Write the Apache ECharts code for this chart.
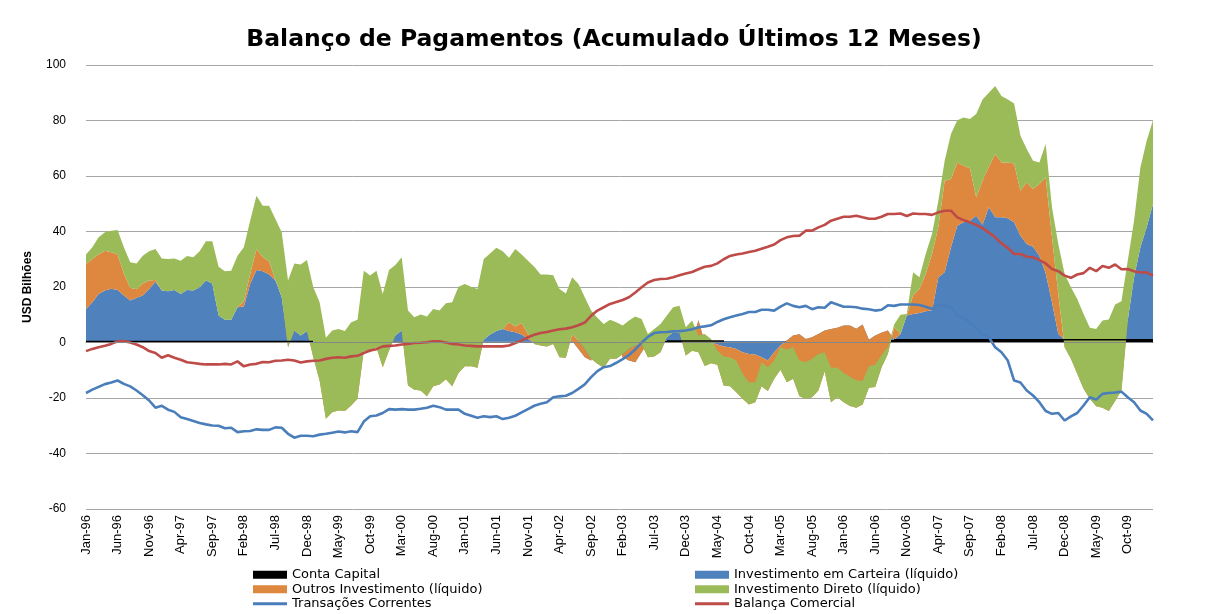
<!DOCTYPE html>
<html>
<head>
<meta charset="utf-8">
<title>Balanço de Pagamentos</title>
<script src="https://cdn.jsdelivr.net/npm/echarts@6/dist/echarts.min.js"></script>
<style>
  html, body { margin: 0; padding: 0; background: #fff; }
  #chart { width: 1206px; height: 614px; }
</style>
</head>
<body>
<div id="chart"></div>
<script>
// meses Jan-96 .. Feb-10
var meses = ['Jan', 'Feb', 'Mar', 'Apr', 'May', 'Jun', 'Jul', 'Aug', 'Sep', 'Oct', 'Nov', 'Dec']
var anoInicial = 1996
var totalMeses = 170

// USD bilhões, acumulado 12 meses (uma linha por ano)
var contaCapital = [
  0.4, 0.4, 0.4, 0.4, 0.4, 0.4, 0.4, 0.4, 0.4, 0.4, 0.4, 0.4,
  0.4, 0.4, 0.4, 0.4, 0.4, 0.4, 0.4, 0.4, 0.4, 0.4, 0.4, 0.4,
  0.4, 0.4, 0.4, 0.4, 0.4, 0.4, 0.4, 0.4, 0.4, 0.4, 0.4, 0.4,
  0.4, 0.4, 0.4, 0.4, 0.4, 0.4, 0.4, 0.4, 0.4, 0.4, 0.4, 0.4,
  0.4, 0.4, 0.4, 0.4, 0.4, 0.4, 0.4, 0.4, 0.4, 0.4, 0.4, 0.4,
  0.3, 0.3, 0.3, 0.3, 0.3, 0.3, 0.3, 0.3, 0.3, 0.3, 0.3, 0.3,
  0.3, 0.3, 0.3, 0.3, 0.3, 0.3, 0.3, 0.3, 0.3, 0.3, 0.3, 0.3,
  0.5, 0.5, 0.5, 0.5, 0.5, 0.5, 0.5, 0.5, 0.5, 0.5, 0.5, 0.5,
  0.5, 0.5, 0.5, 0.5, 0.5, 0.5, 0.5, 0.5, 0.5, 0.5, 0.5, 0.5,
  0.5, 0.5, 0.5, 0.5, 0.5, 0.5, 0.5, 0.5, 0.5, 0.5, 0.5, 0.5,
  0.8, 0.8, 0.8, 0.8, 0.8, 0.8, 0.8, 0.8, 1.0, 1.0, 1.0, 1.0,
  1.0, 1.0, 1.0, 1.0, 1.0, 1.0, 1.0, 1.0, 1.0, 1.0, 1.0, 1.0,
  1.0, 1.0, 1.0, 1.0, 1.0, 1.0, 1.0, 1.0, 1.0, 1.0, 1.0, 1.0,
  1.0, 1.0, 1.0, 1.0, 1.0, 1.0, 1.0, 1.0, 1.0, 1.0, 1.0, 1.0,
  1.0, 1.0
]
var carteira = [
  11.7, 14.1, 17.1, 18.3, 19.0, 18.5, 16.5, 14.7, 15.7, 16.5, 18.9, 21.5,
  18.3, 18.1, 18.5, 17.1, 18.5, 18.3, 19.5, 21.9, 20.9, 9.3, 7.8, 7.8,
  12.3, 12.6, 20.7, 25.7, 25.3, 24.1, 21.9, 15.9, 0.0, 3.9, 2.1, 3.7,
  -0.4, -0.4, -0.4, -0.4, -0.4, -0.4, -0.4, -0.4, -0.4, -0.4, -0.4, -0.4,
  -0.4, 2.1, 3.9, -0.4, -0.4, -0.4, -0.4, -0.4, -0.4, -0.4, -0.4, -0.4,
  -0.3, -0.3, -0.3, 0.7, 2.6, 3.8, 4.6, 3.8, 3.4, 2.6, 1.0, -0.3,
  -0.3, -0.3, -0.3, -0.3, -0.3, 0.2, -2.6, -5.6, -6.8, -0.3, -0.3, -0.3,
  -0.5, -5.8, -7.0, -7.6, -4.0, -0.5, -0.5, -0.5, 1.4, 3.2, 3.0, -0.5,
  -0.5, 7.5, -0.5, -0.5, -1.2, -1.9, -2.2, -2.8, -4.0, -4.6, -4.8, -5.8,
  -7.0, -4.0, -1.6, 0.2, 2.0, 2.5, 0.8, 1.4, 2.6, 3.8, 4.4, 4.8,
  5.3, 5.3, 4.2, 5.7, 0.2, 1.7, 2.7, 3.5, 0.0, 2.1, 8.7, 9.3,
  9.6, 10.3, 10.5, 22.5, 24.3, 33.3, 41.1, 42.3, 42.9, 44.7, 41.4, 47.7,
  44.1, 44.1, 43.8, 42.3, 37.5, 34.5, 33.5, 30.3, 24.0, 13.5, 2.1, 0.0,
  0.0, 0.0, 0.0, 0.0, 0.0, 0.0, 0.0, 0.0, 0.0, 6.9, 22.5, 33.3,
  40.5, 48.9
]
var outros = [
  16.2, 15.6, 14.2, 14.4, 13.1, 12.8, 8.0, 4.6, 3.1, 4.4, 3.0, 0.6,
  0, 0, 0, 0, 0, 0, 0, 0, 0, 0, 0, 0,
  0, 1.9, 3.6, 7.6, 5.0, 4.8, 0.2, 0, -2.1, 0, 0, 0,
  -5.3, -13.7, -27.5, -25.1, -24.5, -24.7, -22.7, -20.3, -2.9, -3.5, -1.7, -8.9,
  -2.9, 0, 0, -15.5, -17.0, -17.3, -19.4, -15.8, -15.1, -13.2, -15.8, -11.0,
  -8.6, -8.6, -9.1, 0, 0, 0, 0, 3.2, 2.1, 4.1, 1.8, -0.5,
  -1.1, -1.4, -0.5, -5.3, -5.5, 2.4, 3.0, 3.0, 0.6, -7.7, -9.1, -5.9,
  -5.9, 1.2, 4.2, 6.0, 3.0, -5.3, -5.0, -3.5, 0, 0, 0, -4.7,
  -3.0, -11.5, -8.5, -7.5, -7.3, -14.1, -14.1, -15.6, -16.8, -18.2, -17.2, -10.5,
  -11.0, -9.6, -8.7, -15.0, -15.6, -22.4, -21.6, -21.6, -20.4, -14.7, -26.4, -25.0,
  -27.6, -29.0, -28.5, -28.8, -17.3, -18.5, -12.5, -8.4, 4.5, 0, 0, 6.6,
  8.7, 13.4, 20.4, 18.0, 33.0, 24.6, 22.8, 20.4, 18.9, 6.6, 15.9, 14.6,
  22.8, 19.8, 20.1, 21.2, 16.2, 22.2, 20.8, 25.8, 34.5, 23.4, 14.4, -2.7,
  -6.9, -12.3, -17.7, -21.3, -24.0, -24.5, -25.7, -22.1, -18.3, 0, 0, 0,
  0, 0
]
var direto = [
  3.4, 4.2, 6.2, 6.6, 7.8, 8.8, 9.4, 9.2, 9.3, 10.0, 10.6, 11.2,
  11.6, 11.6, 11.4, 12.0, 12.3, 12.0, 13.0, 14.2, 15.2, 17.6, 17.5, 17.7,
  18.6, 19.4, 19.2, 19.2, 18.6, 20.0, 22.0, 23.4, 24.0, 24.2, 25.6, 25.6,
  25.2, 28.2, 29.2, 29.4, 29.4, 28.8, 30.0, 28.5, 28.8, 27.6, 27.6, 26.4,
  29.0, 25.4, 26.4, 27.0, 26.1, 27.4, 28.8, 27.9, 26.6, 27.3, 30.3, 31.1,
  29.7, 28.7, 28.4, 29.1, 29.2, 30.0, 28.0, 23.2, 27.9, 24.7, 26.4, 27.8,
  25.6, 25.9, 24.7, 24.6, 23.2, 20.6, 20.4, 18.6, 17.4, 16.6, 15.8, 14.1,
  13.2, 10.2, 10.2, 10.5, 9.0, 8.4, 9.9, 10.2, 7.8, 9.0, 9.7, 10.2,
  10.9, 6.0, 11.6, 8.8, 5.0, 10.5, 10.5, 11.4, 9.0, 8.0, 7.2, 8.7,
  8.6, 6.6, 8.1, 11.7, 11.4, 12.9, 13.2, 13.8, 13.2, 6.9, 12.4, 10.7,
  10.5, 10.6, 9.9, 8.4, 7.8, 8.0, 4.5, 2.4, 1.0, 6.9, 0.6, 8.4,
  4.2, 7.2, 7.2, 9.6, 7.2, 16.2, 15.2, 17.4, 17.7, 30.0, 29.3, 26.7,
  24.5, 23.9, 22.7, 21.6, 19.8, 12.0, 10.2, 7.8, 12.0, 10.8, 18.0, 26.4,
  25.8, 27.0, 27.0, 25.6, 27.9, 31.4, 33.0, 34.8, 32.2, 21.6, 20.4, 28.8,
  31.2, 30.2
]
var transacoes = [
  -18.2, -17.0, -16.0, -15.0, -14.4, -13.7, -14.9, -15.8, -17.3, -19.0, -20.9, -23.5,
  -22.8, -24.2, -25.0, -26.9, -27.6, -28.3, -29.0, -29.5, -29.9, -30.0, -30.9, -30.7,
  -32.3, -32.0, -31.9, -31.3, -31.5, -31.5, -30.6, -30.7, -32.9, -34.3, -33.6, -33.6,
  -33.8, -33.2, -32.9, -32.5, -32.1, -32.4, -32.0, -32.3, -28.5, -26.6, -26.3, -25.4,
  -24.0, -24.2, -24.0, -24.2, -24.2, -23.9, -23.5, -22.8, -23.3, -24.2, -24.2, -24.2,
  -25.7, -26.4, -27.1, -26.6, -26.9, -26.6, -27.6, -27.1, -26.4, -25.2, -24.0, -22.8,
  -22.1, -21.5, -19.7, -19.4, -19.2, -18.2, -16.7, -15.1, -12.5, -10.3, -8.9, -8.5,
  -7.3, -6.0, -4.5, -2.5, 0.0, 2.0, 3.4, 3.7, 3.8, 4.0, 4.1, 4.3,
  4.8, 5.5, 5.8, 6.2, 7.4, 8.4, 9.1, 9.7, 10.3, 11.0, 11.0, 11.8,
  11.8, 11.5, 12.9, 14.1, 13.2, 12.7, 13.2, 12.0, 12.7, 12.5, 14.5, 13.7,
  12.9, 12.9, 12.7, 12.2, 12.0, 11.5, 11.8, 13.4, 13.2, 13.7, 13.7, 13.7,
  13.5, 12.9, 12.1, 13.7, 13.2, 12.9, 9.7, 8.9, 7.0, 5.3, 2.9, 1.9,
  -1.7, -3.5, -6.5, -13.7, -14.4, -17.3, -19.1, -21.5, -24.7, -25.7, -25.4, -28.1,
  -26.6, -25.4, -22.7, -19.7, -20.6, -18.5, -18.2, -18.0, -17.7, -19.7, -21.5, -24.5,
  -25.7, -28.1
]
var balanca = [
  -3.1, -2.3, -1.7, -1.2, -0.5, 0.4, 0.5, 0.0, -0.7, -1.7, -3.1, -3.8,
  -5.5, -4.6, -5.5, -6.2, -7.1, -7.4, -7.7, -7.9, -7.9, -7.9, -7.7, -7.9,
  -6.8, -8.6, -7.9, -7.7, -7.0, -7.1, -6.6, -6.5, -6.2, -6.5, -7.2, -6.8,
  -6.6, -6.5, -5.9, -5.5, -5.3, -5.5, -5.0, -4.8, -3.8, -2.9, -2.4, -1.4,
  -1.2, -1.1, -0.7, -0.5, -0.2, -0.1, 0.1, 0.4, 0.4, 0.0, -0.5, -0.7,
  -1.1, -1.2, -1.4, -1.4, -1.4, -1.4, -1.4, -1.1, -0.2, 0.7, 1.9, 2.8,
  3.4, 3.8, 4.3, 4.8, 5.0, 5.5, 6.2, 7.2, 9.6, 11.5, 12.7, 13.9,
  14.6, 15.3, 16.3, 18.0, 19.9, 21.6, 22.5, 22.9, 23.0, 23.5, 24.2, 24.9,
  25.4, 26.4, 27.3, 27.6, 28.5, 30.0, 31.2, 31.7, 32.1, 32.6, 33.1, 33.8,
  34.5, 35.3, 36.9, 37.9, 38.4, 38.5, 40.3, 40.3, 41.5, 42.4, 43.9, 44.6,
  45.3, 45.3, 45.7, 45.1, 44.6, 44.6, 45.3, 46.3, 46.3, 46.5, 45.6, 46.5,
  46.3, 46.3, 46.0, 46.9, 47.5, 47.5, 45.1, 44.1, 43.3, 42.4, 41.2, 39.6,
  37.9, 35.7, 34.1, 31.9, 31.9, 30.9, 30.7, 29.7, 28.5, 26.5, 25.7, 24.1,
  23.3, 24.5, 25.0, 26.9, 25.7, 27.6, 26.9, 28.1, 26.4, 26.5, 25.7, 25.2,
  25.3, 24.1
]

// categorias no formato Jan-96
var categorias = []
for (var i = 0; i < totalMeses; i++) {
  var ano = (anoInicial + Math.floor(i / 12)) % 100
  categorias.push(meses[i % 12] + '-' + (ano < 10 ? '0' + ano : ano))
}

var fonteEixo = "'Liberation Sans Narrow', 'Liberation Sans', Arial, sans-serif"
var fonteTexto = "'DejaVu Sans', Verdana, sans-serif"
var iconeLinha = 'path://M0,0 H34 V3 H0 Z'

// borda: só a conta capital mantém o contorno (linha preta no zero)
function area(nome, dados, cor, borda) {
  return {
    name: nome,
    type: 'line',
    stack: 'bp',
    stackStrategy: 'all',
    data: dados,
    color: cor,
    symbol: 'none',
    lineStyle: borda ? { width: 1.5 } : { width: 0, opacity: 0 },
    areaStyle: { color: cor, opacity: 1 },
    emphasis: { disabled: true }
  }
}

function linha(nome, dados, cor) {
  return {
    name: nome,
    type: 'line',
    data: dados,
    color: cor,
    symbol: 'none',
    lineStyle: { width: 2.6, color: cor },
    emphasis: { disabled: true }
  }
}

function legenda(x, nomes) {
  return {
    left: x,
    top: 568,
    orient: 'vertical',
    padding: 0,
    itemWidth: 34,
    itemHeight: 8,
    itemGap: 1,
    textStyle: { fontFamily: fonteTexto, fontSize: 13, lineHeight: 13.5, color: '#000' },
    data: nomes
  }
}

var semCor = 'rgba(0,0,0,0)'

var myChart = echarts.init(document.getElementById('chart'))
var option = {
  backgroundColor: '#fff',
  animation: false,
  title: {
    text: 'Balanço de Pagamentos (Acumulado Últimos 12 Meses)',
    left: 614,
    textAlign: 'center',
    top: 28,
    padding: 0,
    textStyle: {
      fontFamily: fonteTexto,
      fontWeight: 'bold',
      fontSize: 23.5,
      color: '#000'
    }
  },
  legend: [
    legenda(253, [
      { name: 'Conta Capital', icon: 'rect' },
      { name: 'Outros Investimento (líquido)', icon: 'rect' },
      { name: 'Transações Correntes', icon: iconeLinha }
    ]),
    legenda(695, [
      { name: 'Investimento em Carteira (líquido)', icon: 'rect' },
      { name: 'Investimento Direto (líquido)', icon: 'rect' },
      { name: 'Balança Comercial', icon: iconeLinha }
    ])
  ],
  // contorno preto da conta capital só onde ele aparece no original
  visualMap: {
    show: false,
    type: 'piecewise',
    seriesIndex: 0,
    dimension: 0,
    pieces: [
      { lt: 35.5, color: '#000' },
      { gte: 35.5, lt: 91.5, color: semCor },
      { gte: 91.5, lt: 100.5, color: '#000' },
      { gte: 100.5, lt: 127.5, color: semCor },
      { gte: 127.5, color: '#000' }
    ]
  },
  grid: {
    left: 86,
    right: 53,
    top: 65,
    bottom: 105
  },
  xAxis: [
    {
      type: 'category',
      data: categorias,
      boundaryGap: false,
      position: 'bottom',
      axisLine: { show: false, onZero: false },
      axisTick: { show: false },
      axisLabel: {
        interval: 4,
        rotate: 90,
        margin: 6,
        fontFamily: "'Liberation Sans', Arial, sans-serif",
        fontSize: 13,
        color: '#000'
      }
    },
    {
      // linha do zero desenhada por cima das áreas
      type: 'category',
      data: categorias,
      boundaryGap: false,
      position: 'bottom',
      z: 10,
      axisLine: { show: true, onZero: true, lineStyle: { color: '#868686', width: 1 } },
      axisTick: { show: false },
      axisLabel: { show: false }
    }
  ],
  yAxis: {
    type: 'value',
    min: -60,
    max: 100,
    interval: 20,
    name: 'USD Bilhões',
    nameLocation: 'middle',
    nameGap: 52,
    nameTextStyle: {
      fontFamily: fonteEixo,
      fontWeight: 'bold',
      fontSize: 12,
      color: '#000'
    },
    axisLine: { show: false },
    axisTick: { show: false },
    axisLabel: {
      margin: 20,
      fontFamily: fonteEixo,
      fontSize: 12,
      color: '#000'
    },
    splitLine: { lineStyle: { color: '#a6a6a6', width: 1 } }
  },
  series: [
    area('Conta Capital', contaCapital, '#000000', true),
    area('Investimento em Carteira (líquido)', carteira, '#4F81BD'),
    area('Outros Investimento (líquido)', outros, '#DD873F'),
    area('Investimento Direto (líquido)', direto, '#9BBB59'),
    linha('Transações Correntes', transacoes, '#4A7EBB'),
    linha('Balança Comercial', balanca, '#BE4B48')
  ]
}
myChart.setOption(option)
</script>
</body>
</html>
